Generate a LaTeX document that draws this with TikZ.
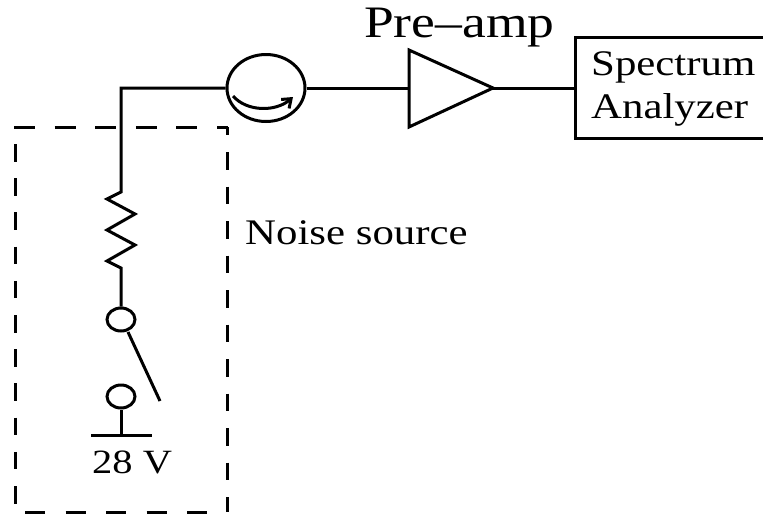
\documentclass[tikz,border=0pt]{standalone}
\usepackage{fontspec}
\setmainfont{Liberation Serif}
\usetikzlibrary{
  positioning,
  calc,
  arrows.meta,
  shapes.geometric
}
\newcommand{\widetxt}[1]{\scalebox{1.19}[1]{#1}}
\tikzset{
  wire/.style={line width=3pt},
  boxedge/.style={line width=3pt},
  terminal/.style={ellipse,draw,line width=3pt,minimum width=28pt,minimum height=23pt,inner sep=0pt},
  label/.style={inner sep=0pt,font=\fontsize{36pt}{36pt}\selectfont}
}
\begin{document}
\begin{tikzpicture}[x=1pt,y=-1pt,line join=miter]
  \useasboundingbox (0,0) rectangle (763,515);

  % 破線の枠
  \draw [boxedge,dash pattern=on 21pt off 19.6pt] (14,127) -- (228,127);
  \draw [boxedge,dash pattern=on 20pt off 20.5pt] (25,512) -- (208,512);
  \draw [boxedge,dash pattern=on 17.5pt off 16.7pt] (15,144) -- (15,504);
  \draw [boxedge] (227,127) -- (227,135);
  \draw [boxedge,dash pattern=on 17.5pt off 17pt] (227,152) -- (227,512);

  % サーキュレータ
  \node (circulator) [ellipse,draw,line width=3pt,minimum width=78pt,minimum height=67pt,inner sep=0pt] at (266,88) {};
  \coordinate (arcA) at (233,96);
  \coordinate (arcB) at (293,97);
  \draw [wire,-{Straight Barb[length=8pt,width=12pt]}] (arcA) .. controls (247,112) and (276,112) .. (arcB);

  % 増幅器
  \coordinate (ampA) at (409,50);
  \coordinate (ampB) at (409,127);
  \coordinate (ampC) at (493,88);
  \draw [wire] (ampA) -- (ampC) -- (ampB) -- cycle;
  \coordinate (ampIn) at (409,88);
  \node (preamp) [inner sep=0pt,anchor=base west,font=\fontsize{45pt}{45pt}\selectfont] at (364,37) {\widetxt{Pre--amp}};

  % スペクトラムアナライザ
  \node (analyzer) [draw,boxedge,minimum width=205pt,minimum height=101pt,inner sep=0pt] at (677.5,88) {};
  \node (spectrum) [label,anchor=base west] at (591,75) {\widetxt{Spectrum}};
  \node (analyzertxt) [label,anchor=base west] at (591,118) {\widetxt{Analyzer}};

  % 配線
  \coordinate (corner) at (121,88);
  \coordinate (resTop) at (121,192);
  \coordinate (resBot) at (121,268);
  \node (termA) [terminal] at (121,319.5) {};
  \node (termB) [terminal] at (121,396.5) {};
  \coordinate (swStart) at (128,332);
  \coordinate (swEnd) at (160,401);
  \coordinate (groundL) at (91,435);
  \coordinate (groundR) at (152,435);
  \coordinate (groundM) at (121,435);

  \draw [wire] (circulator.west) -- (corner) -- (resTop)
    -- (107,199) -- (135,214) -- (107,230) -- (135,245) -- (107,261) -- (resBot) -- (termA);
  \draw [wire] (circulator.east) -- (ampIn);
  \draw [wire] (ampC) -- (analyzer.west);
  \draw [wire] (swStart) -- (swEnd);
  \draw [wire] (termB) -- (groundM);
  \draw [wire] (groundL) -- (groundR);

  % ラベル
  \node (noise) [label,anchor=base west] at (245,244) {\widetxt{Noise source}};
  \node (volt) [inner sep=0pt,anchor=base west,font=\fontsize{34pt}{34pt}\selectfont] at (92,473) {\widetxt{28 V}};
\end{tikzpicture}
\end{document}
